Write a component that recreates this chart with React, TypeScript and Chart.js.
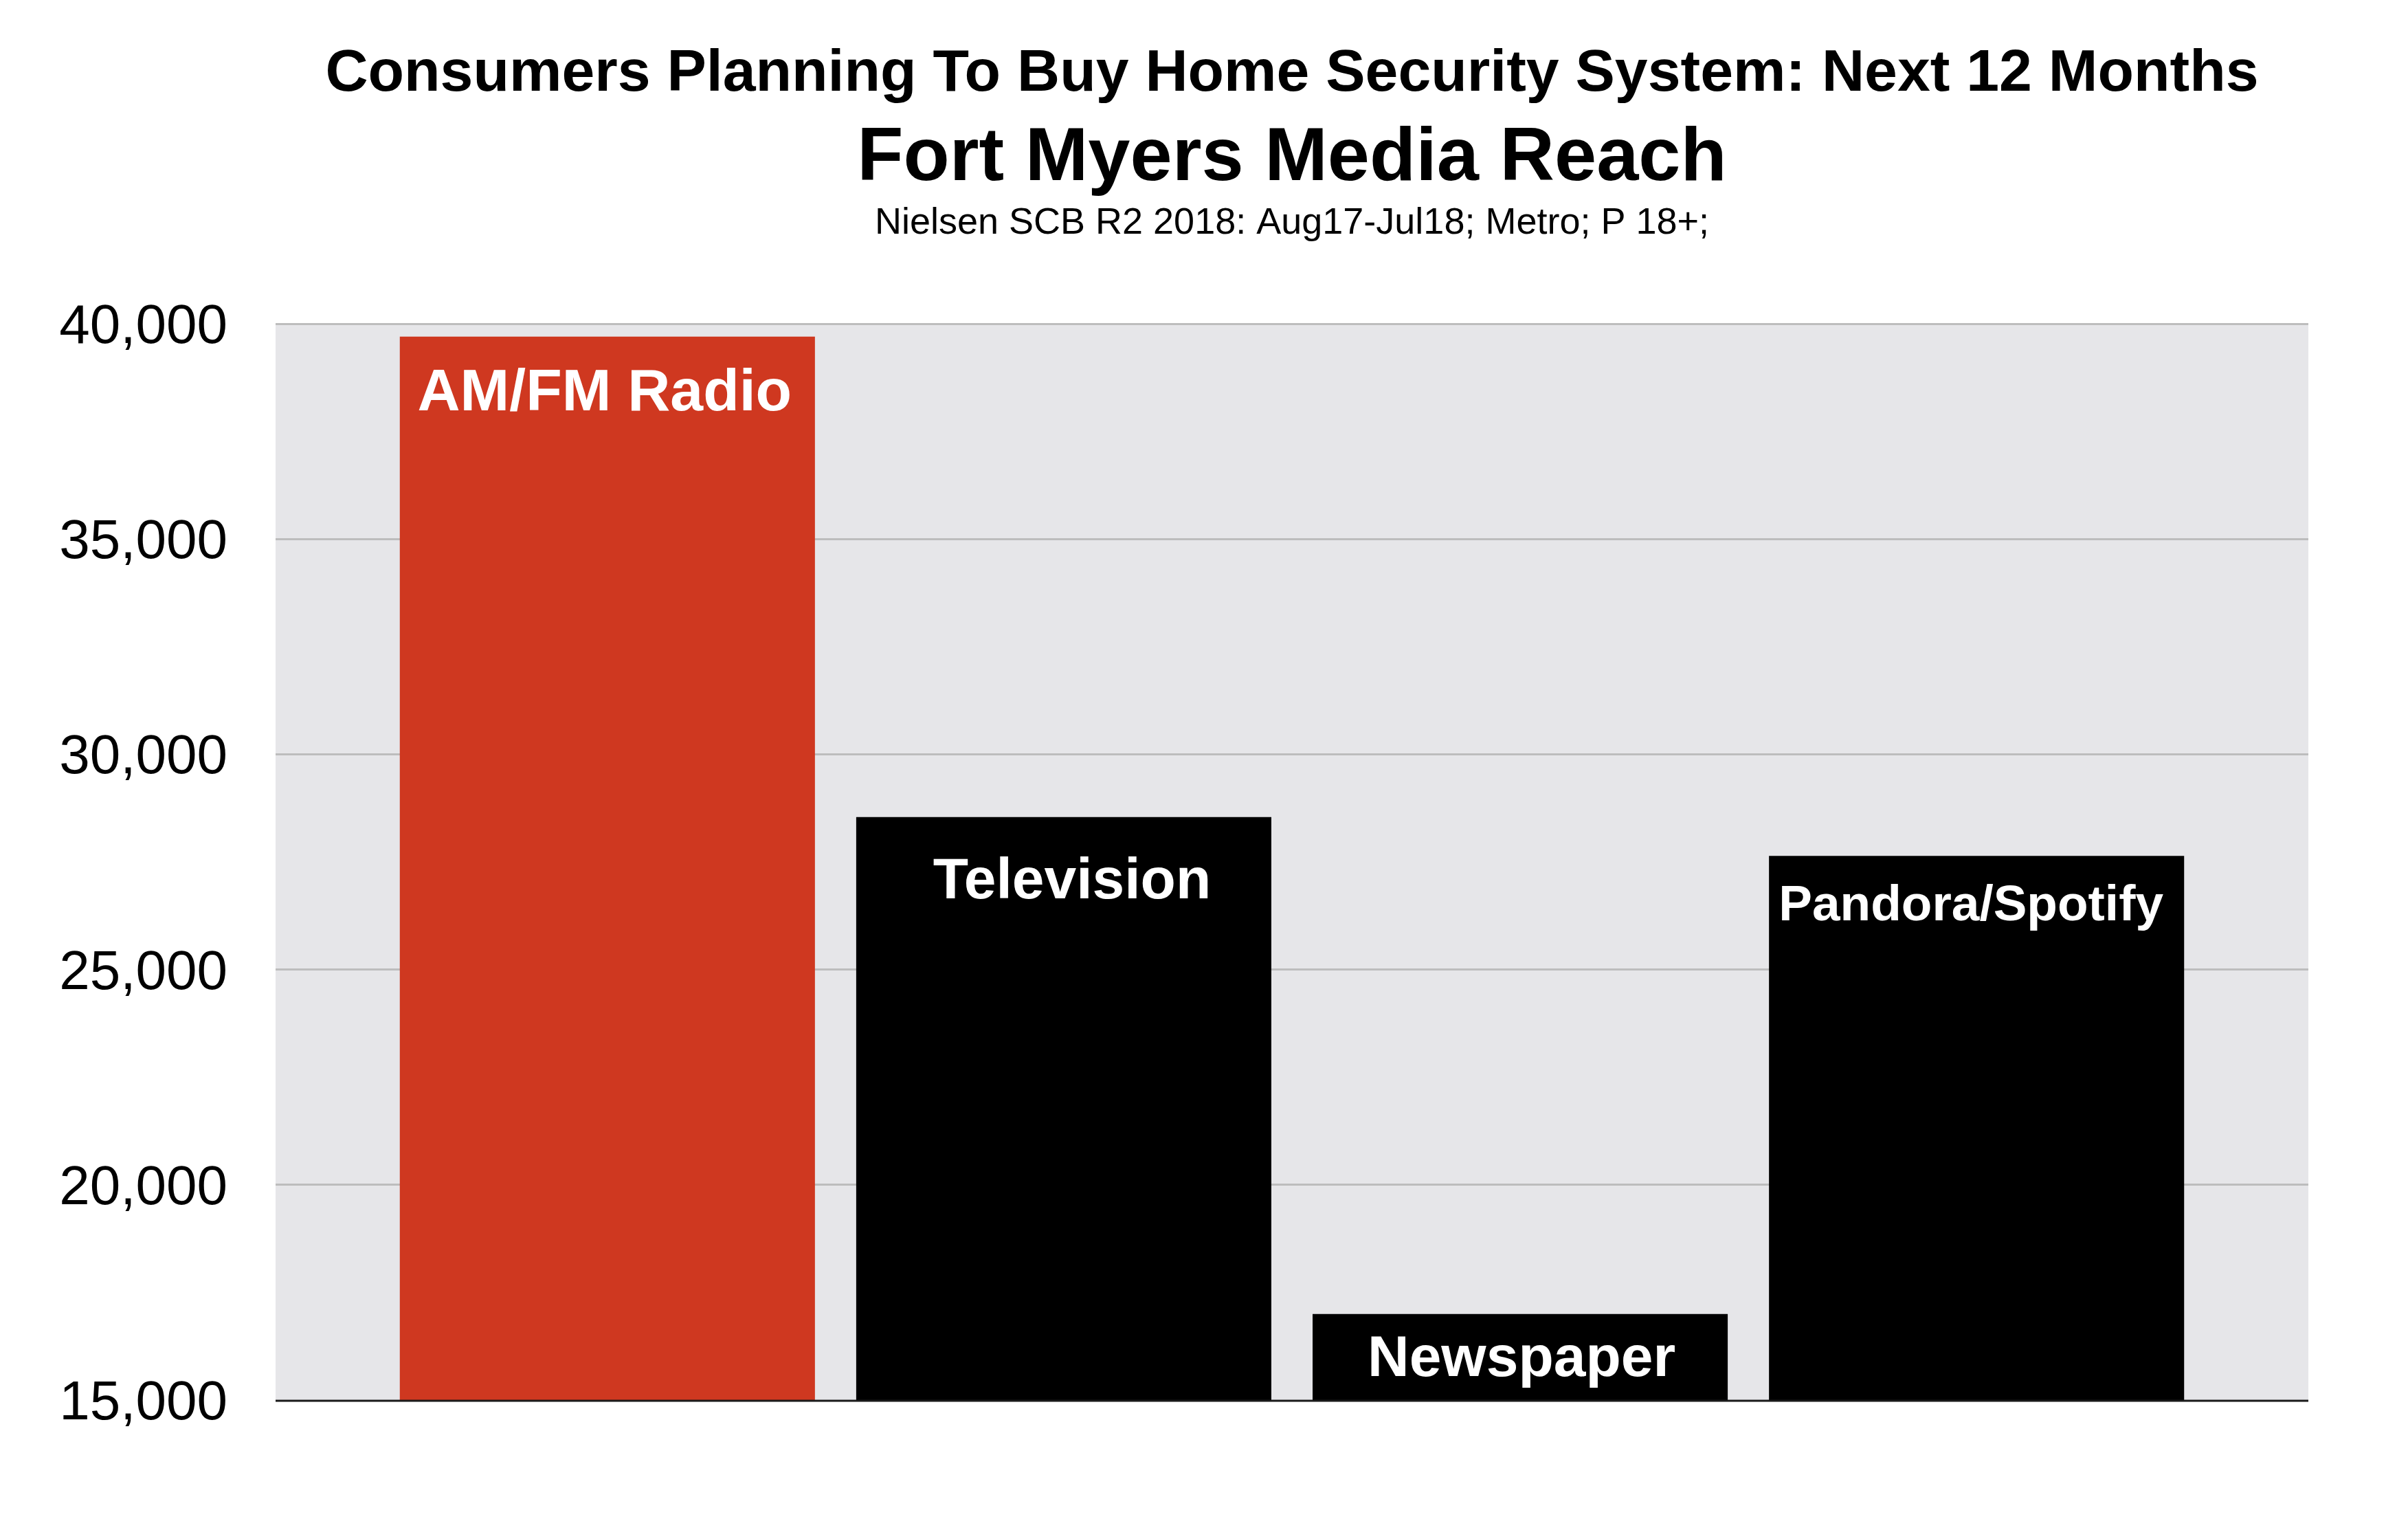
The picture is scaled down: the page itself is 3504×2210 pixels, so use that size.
import { useEffect, useRef } from "react";
import { Chart, registerables } from "chart.js";

Chart.register(...registerables);

// ---- data ----
const categories = ["AM/FM Radio", "Television", "Newspaper", "Pandora/Spotify"];
const reachValues = [39700, 28540, 17000, 27640];
const yTickValues = [15000, 20000, 25000, 30000, 35000, 40000];
const titleText = "Consumers Planning To Buy Home Security System: Next 12 Months";
const mainTitleText = "Fort Myers Media Reach";
const sourceText = "Nielsen SCB R2 2018: Aug17-Jul18; Metro; P 18+;";

// ---- styles ----
const FONT = '"Liberation Sans", Arial, Helvetica, sans-serif';
const barColors = ["#cf3820", "#000000", "#000000", "#000000"];
const labelFontSizes = [86, 84, 84, 73];
const labelBaselineOffsets = [107, 118, 90, 94];
const labelXShift = [-4, 12, 2, -8];
const plotBg = "#e6e6e9";

const decorPlugin = {
  id: "decor",
  beforeDraw(chart: any) {
    const { ctx, chartArea } = chart;
    ctx.save();
    ctx.fillStyle = plotBg;
    ctx.fillRect(chartArea.left, chartArea.top, chartArea.right - chartArea.left, chartArea.bottom - chartArea.top);
    ctx.restore();
  },
  afterDatasetsDraw(chart: any) {
    const { ctx, chartArea } = chart;
    ctx.save();
    // baseline
    ctx.strokeStyle = "#1a1a1a";
    ctx.lineWidth = 3;
    ctx.beginPath();
    ctx.moveTo(chartArea.left, chartArea.bottom + 1);
    ctx.lineTo(chartArea.right, chartArea.bottom + 1);
    ctx.stroke();
    // bar labels
    const meta = chart.getDatasetMeta(0);
    ctx.fillStyle = "#ffffff";
    ctx.textAlign = "center";
    ctx.textBaseline = "alphabetic";
    meta.data.forEach((bar: any, i: number) => {
      ctx.font = `bold ${labelFontSizes[i]}px ${FONT}`;
      ctx.fillText(categories[i], bar.x + labelXShift[i], bar.y + labelBaselineOffsets[i]);
    });
    // titles
    const cx = (chartArea.left + chartArea.right) / 2;
    ctx.fillStyle = "#000000";
    ctx.font = `bold 86px ${FONT}`;
    ctx.fillText(titleText, cx, 132);
    ctx.font = `bold 110px ${FONT}`;
    ctx.fillText(mainTitleText, cx, 262);
    ctx.font = `54px ${FONT}`;
    ctx.fillText(sourceText, cx, 340);
    ctx.restore();
  },
};

export default function App() {
  const ref = useRef<HTMLCanvasElement | null>(null);

  useEffect(() => {
    if (!ref.current) return;
    const chart = new Chart(ref.current, {
      type: "bar",
      data: {
        datasets: [
          {
            label: "Reach",
            data: reachValues.map((v, i) => ({ x: i, y: v })) as any,
            backgroundColor: barColors,
            borderWidth: 0,
            categoryPercentage: 0.9096,
            barPercentage: 1,
          },
        ],
      },
      options: {
        animation: false,
        responsive: false,
        devicePixelRatio: 1,
        layout: { padding: { top: 471, left: 86, right: 145, bottom: 173 } },
        plugins: {
          legend: { display: false },
          tooltip: { enabled: false },
          title: { display: false },
        },
        scales: {
          x: {
            type: "linear",
            display: false,
            offset: false,
            min: -0.727,
            max: categories.length - 1 + 0.727,
            afterBuildTicks: (s: any) => {
              s.ticks = categories.map((_, i) => ({ value: i }));
            },
          },
          y: {
            type: "linear",
            min: yTickValues[0],
            max: yTickValues[yTickValues.length - 1],
            afterBuildTicks: (s: any) => {
              s.ticks = yTickValues.map((v) => ({ value: v }));
            },
            afterFit: (s: any) => {
              s.width = 315;
            },
            border: { display: false },
            grid: {
              color: (c: any) => (c.tick && c.tick.value === yTickValues[0] ? "rgba(0,0,0,0)" : "#bdbdbd"),
              lineWidth: 3,
              drawTicks: false,
            },
            ticks: {
              padding: 70,
              labelOffset: 6,
              color: "#000000",
              font: { family: FONT, size: 80 },
              callback: (v: any) => Number(v).toLocaleString("en-US"),
            },
          },
        },
      },
      plugins: [decorPlugin],
    });
    return () => chart.destroy();
  }, []);

  return (
    <div style={{ position: "absolute", left: 0, top: 0, width: 3504, height: 2210, background: "#ffffff" }}>
      <canvas ref={ref} width={3504} height={2210} style={{ display: "block", width: 3504, height: 2210 }} />
    </div>
  );
}
